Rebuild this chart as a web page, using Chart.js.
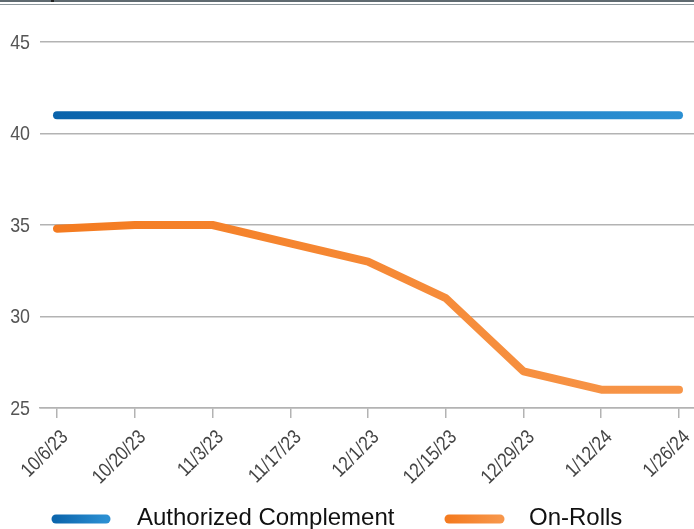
<!DOCTYPE html>
<html>
<head>
<meta charset="utf-8">
<script src="https://cdn.jsdelivr.net/npm/chart.js@4/dist/chart.umd.min.js"></script>
<style>
  body { margin: 0; background: #fff; overflow: hidden; }
  #wrap { position: relative; width: 694px; height: 529px; }
  #topbar { position: absolute; left: 0; top: 0; width: 694px; height: 2px; background: #5f6a70; }
  #topbar2 { position: absolute; left: 0; top: 4px; width: 694px; height: 1px; background: #8e989d; }
  #mark { position: absolute; left: 51px; top: 0; width: 3px; height: 2px; background: #222; }
</style>
</head>
<body>
<div id="wrap">
  <canvas id="chart" width="694" height="529"></canvas>
  <div id="topbar"></div>
  <div id="topbar2"></div>
  <div id="mark"></div>
</div>
<script>
"use strict";
const dates = ["10/6/23", "10/20/23", "11/3/23", "11/17/23", "12/1/23", "12/15/23", "12/29/23", "1/12/24", "1/26/24"];
const authorized = [41, 41, 41, 41, 41, 41, 41, 41, 41];
const onRolls = [34.8, 35, 35, 34, 33, 31, 27, 26, 26];
const yTicks = [25, 30, 35, 40, 45];
const seriesNames = ["Authorized Complement", "On-Rolls"];

// the reference uses a condensed face; squeeze Liberation Sans to get close
const SQUEEZE = 0.85;

function gradientFor(startColor, endColor) {
    return function (context) {
        const chart = context.chart;
        if (!chart.chartArea) {
            return startColor;
        }
        const x = chart.scales.x;
        const g = chart.ctx.createLinearGradient(x.getPixelForValue(0), 0, x.getPixelForValue(dates.length - 1), 0);
        g.addColorStop(0, startColor);
        g.addColorStop(1, endColor);
        return g;
    };
}

const tickLabelPlugin = {
    id: "narrowTicks",
    afterDraw(chart) {
        const ctx = chart.ctx;
        const xs = chart.scales.x;
        const ys = chart.scales.y;
        ctx.save();
        ctx.font = "21px 'Liberation Sans', Arial, sans-serif";
        ctx.fillStyle = "#555";
        ctx.textAlign = "right";
        ctx.textBaseline = "middle";
        ys.ticks.forEach(function (t) {
            ctx.save();
            ctx.translate(ys.right - 10, ys.getPixelForValue(t.value) + 1);
            ctx.scale(SQUEEZE, 1);
            ctx.fillText(String(t.value), 0, 0);
            ctx.restore();
        });
        ctx.font = "20px 'Liberation Sans', Arial, sans-serif";
        ctx.fillStyle = "#444";
        ctx.textBaseline = "top";
        xs.ticks.forEach(function (t) {
            ctx.save();
            ctx.translate(xs.getPixelForValue(t.value) + 1, xs.top + 19);
            ctx.rotate(-Math.PI / 4);
            ctx.scale(SQUEEZE, 1);
            ctx.fillText(dates[t.value], 0, 0);
            ctx.restore();
        });
        ctx.restore();
    },
};

const legendPlugin = {
    id: "bottomLegend",
    afterDraw(chart) {
        const ctx = chart.ctx;
        const items = [
            { x1: 56, x2: 106, tx: 137, c1: "#0c66ad", c2: "#2b8fd2", text: seriesNames[0] },
            { x1: 449, x2: 500, tx: 529, c1: "#f47b20", c2: "#f7964a", text: seriesNames[1] },
        ];
        ctx.save();
        items.forEach(function (it) {
            const g = ctx.createLinearGradient(it.x1, 0, it.x2, 0);
            g.addColorStop(0, it.c1);
            g.addColorStop(1, it.c2);
            ctx.strokeStyle = g;
            ctx.lineWidth = 9;
            ctx.lineCap = "round";
            ctx.beginPath();
            ctx.moveTo(it.x1, 519);
            ctx.lineTo(it.x2, 519);
            ctx.stroke();
            ctx.fillStyle = "#111";
            ctx.font = "24px 'Liberation Sans', Arial, sans-serif";
            ctx.textBaseline = "alphabetic";
            ctx.fillText(it.text, it.tx, 525);
        });
        ctx.restore();
    },
};

const toPoints = function (values) {
    return values.map(function (v, i) { return { x: i, y: v }; });
};

const chartConfig = {
    type: "line",
    data: {
        datasets: [
            {
                label: seriesNames[0],
                data: toPoints(authorized),
                borderColor: gradientFor("#0a63ab", "#2c90d3"),
                borderWidth: 8,
                borderCapStyle: "round",
                borderJoinStyle: "round",
                pointRadius: 0,
                tension: 0,
            },
            {
                label: seriesNames[1],
                data: toPoints(onRolls),
                borderColor: gradientFor("#f47b20", "#f7964a"),
                borderWidth: 8,
                borderCapStyle: "round",
                borderJoinStyle: "round",
                pointRadius: 0,
                tension: 0,
            },
        ],
    },
    options: {
        responsive: false,
        animation: false,
        layout: { padding: { top: 42, right: 0, bottom: 41, left: 0 } },
        plugins: {
            legend: { display: false },
            tooltip: { enabled: false },
        },
        scales: {
            x: {
                type: "linear",
                min: -0.2187,
                max: 8.193,
                afterFit(scale) { scale.height = 80; },
                afterBuildTicks(scale) {
                    scale.ticks = dates.map(function (d, i) { return { value: i }; });
                },
                ticks: { display: false },
                grid: {
                    drawOnChartArea: false,
                    drawTicks: true,
                    tickLength: 10,
                    color: "#b3b3b3",
                    lineWidth: 1.5,
                },
                border: { display: true, color: "#b3b3b3", width: 1.5 },
            },
            y: {
                min: 25,
                max: 45,
                afterFit(scale) { scale.width = 40; },
                afterBuildTicks(scale) {
                    scale.ticks = yTicks.map(function (v) { return { value: v }; });
                },
                ticks: { display: false },
                grid: {
                    drawTicks: false,
                    color: "#b3b3b3",
                    lineWidth: 1.5,
                },
                border: { display: false },
            },
        },
    },
    plugins: [tickLabelPlugin, legendPlugin],
};

const lineChart = new Chart(document.getElementById("chart"), chartConfig);
</script>
</body>
</html>
